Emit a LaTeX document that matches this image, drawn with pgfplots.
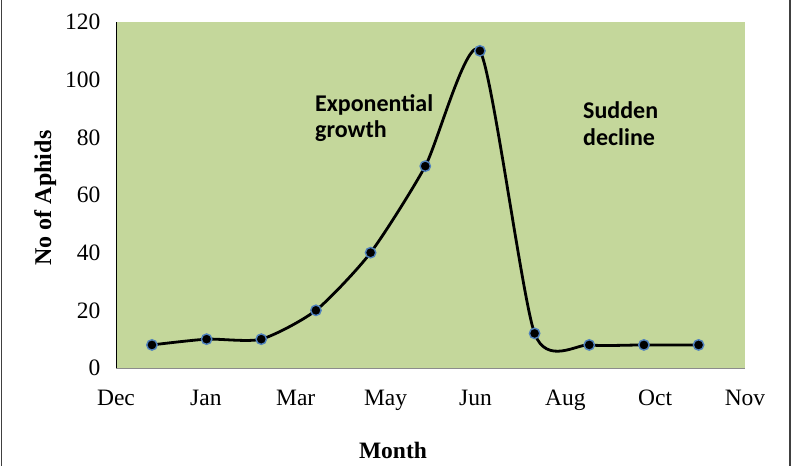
\documentclass[border=0pt]{standalone}
\usepackage{pgfplots}
\pgfplotsset{compat=1.18}
\usepackage{fontspec}
\setmainfont{Liberation Serif}
\newfontfamily\calibri{Carlito}
\definecolor{plotgreen}{RGB}{196,215,155}
\definecolor{markedge}{RGB}{79,129,189}

% Monthly aphid counts (x in days from the start of December)
\pgfplotstableread{
day   aphids
24    8
60.5  10
97    10
133.5 20
170   40
206.5 70
243   110
279.5 12
316   8
352.5 8
389   8
}\aphids

\begin{document}
\begin{tikzpicture}[x=1bp,y=1bp]
\path[use as bounding box] (0,0) rectangle (806,466);
\draw[line width=1.2bp, black!75] (1.5,0) -- (1.5,466);
\draw[line width=1.2bp, black!75] (790,0) -- (790,466);
\begin{axis}[
  at={(116bp,98bp)}, anchor=south west,
  scale only axis, width=629bp, height=346bp,
  xmin=0, xmax=420, ymin=0, ymax=120,
  xtick={0,60,...,420},
  xticklabels={Dec,Jan,Mar,May,Jun,Aug,Oct,Nov},
  ytick={0,20,...,120},
  major tick length=0pt,
  axis x line*=bottom, axis y line*=left,
  x axis line style={-, draw=gray!90, line width=0.8bp},
  y axis line style={-, draw=black, line width=0.8bp},
  axis background/.style={fill=plotgreen},
  tick label style={font=\fontsize{23.5bp}{28bp}\selectfont},
  yticklabel style={xshift=-12bp},
  xticklabel style={anchor=base, yshift=-38bp},
  /pgf/number format/assume math mode=true,
  clip=false,
]
\addplot[smooth, tension=0.4, line width=2.8bp, black,
  mark=*, mark size=5.2bp,
  mark options={fill=black, draw=markedge, line width=1.4bp}]
  table[x=day, y=aphids] {\aphids};
\end{axis}
\node[anchor=base, inner sep=0pt, font=\bfseries\fontsize{23.5bp}{28bp}\selectfont] at (393,7) {Month};
\node[anchor=base, rotate=90, inner sep=0pt, font=\bfseries\fontsize{24bp}{28bp}\selectfont] at (51,268) {No of Aphids};
\node[anchor=base west, inner sep=0pt, font=\calibri\bfseries\fontsize{24bp}{28bp}\selectfont] at (315,354) {Exponential};
\node[anchor=base west, inner sep=0pt, font=\calibri\bfseries\fontsize{24bp}{28bp}\selectfont] at (315,328) {growth};
\node[anchor=base west, inner sep=0pt, font=\calibri\bfseries\fontsize{24bp}{28bp}\selectfont] at (583,347) {Sudden};
\node[anchor=base west, inner sep=0pt, font=\calibri\bfseries\fontsize{24bp}{28bp}\selectfont] at (583,320) {decline};
\end{tikzpicture}
\end{document}
